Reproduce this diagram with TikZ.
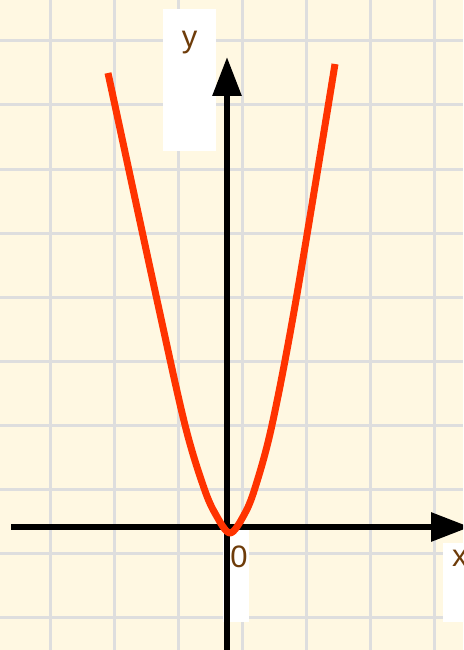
\documentclass[tikz,border=0pt]{standalone}
\usepackage{fontspec}
\setmainfont{Liberation Sans}
\usetikzlibrary{arrows.meta}
\definecolor{bgcream}{HTML}{FFF8E2}
\definecolor{gridgray}{HTML}{DEDEDE}
\definecolor{curvered}{HTML}{FF3300}
\definecolor{labelbrown}{HTML}{6E3C0A}
\tikzset{
  gridline/.style={draw=gridgray, line width=3pt},
  labelbox/.style={fill=white, draw=none},
  axisline/.style={draw=black, line width=6pt, -{Triangle[length=39pt,width=28pt]}},
  axislabel/.style={text=labelbrown, font=\fontsize{31}{31}\selectfont, inner sep=0pt},
  curveline/.style={draw=curvered, line width=7pt, line join=round}
}
\begin{document}
\begin{tikzpicture}[x=1pt,y=-1pt]
\useasboundingbox (0,0) rectangle (463,650);
\clip (0,0) rectangle (463,650);
\fill[bgcream] (0,0) rectangle (463,650);
% grid
\foreach \gx in {50,114,178,242,306,370,434} \draw[gridline] (\gx,0) -- (\gx,650);
\foreach \gy in {41,105,169,233,297,361,425,489,553,617} \draw[gridline] (0,\gy) -- (463,\gy);
% white label boxes
\fill[labelbox] (163,9) rectangle (216,151);
\fill[labelbox] (223,530) rectangle (249,622);
\fill[labelbox] (443,543) rectangle (470,622);
% labels
\node[axislabel, anchor=base] (ylab) at (189.5,48) {y};
\node[axislabel, anchor=base] (zlab) at (239,567) {0};
\node[axislabel, anchor=base west] (xlab) at (452,566) {x};
% axes
\coordinate (xstart) at (11,527);
\coordinate (xend) at (470,527);
\coordinate (ystart) at (227,660);
\coordinate (yend) at (227,57);
\draw[axisline] (xstart) -- (xend);
\draw[axisline] (ystart) -- (yend);
% curve
\draw[curveline] plot[smooth, tension=0.55] coordinates {(108,73) (157,300) (185,425) (204,488) (216,515) (230,533) (244,515) (255,488) (272,425) (296,300) (335,64)};
\end{tikzpicture}
\end{document}
